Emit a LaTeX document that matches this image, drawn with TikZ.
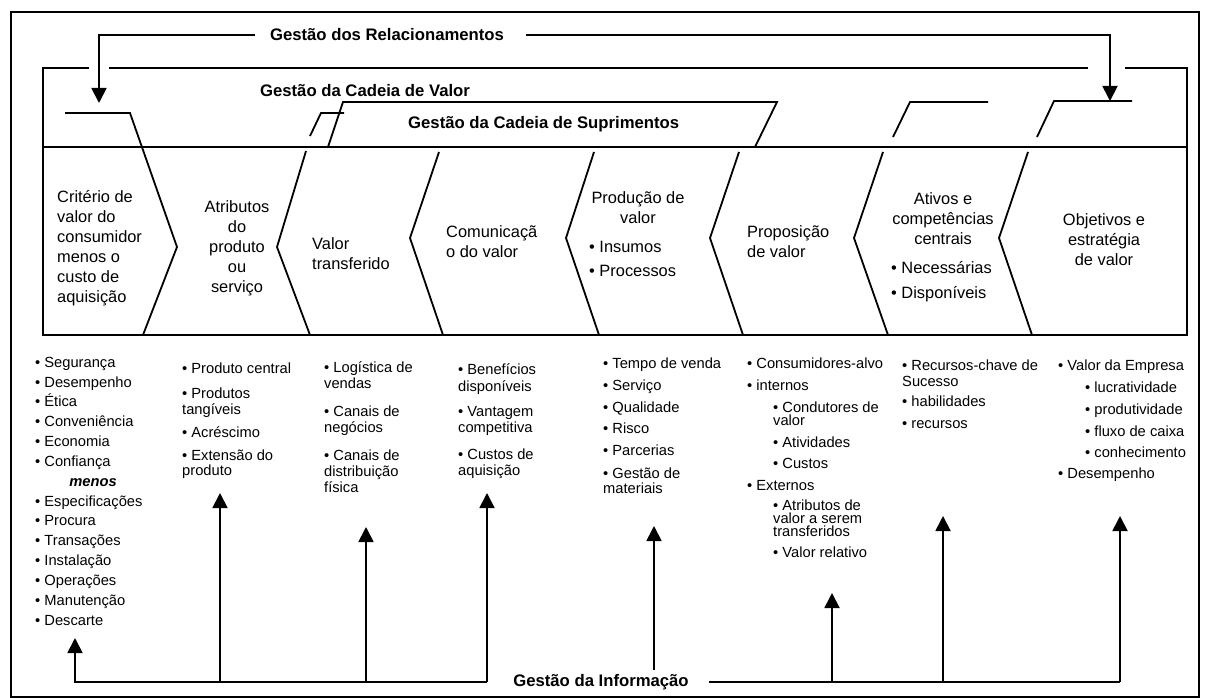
\documentclass[tikz,border=0pt]{standalone}
\usepackage{fontspec}
\setmainfont{Liberation Sans}
\usetikzlibrary{arrows.meta}
\begin{document}
\begin{tikzpicture}[x=1pt,y=-1pt,
  ln/.style={line width=1.8pt, line join=miter},
  arr/.style={ln,-{Triangle[width=15pt,length=15pt]}},
  title/.style={font=\fontsize{16.7}{20}\selectfont\bfseries, inner sep=0pt},
  band/.style={font=\fontsize{16.4}{20}\selectfont, inner sep=0pt},
  bandl/.style={band, anchor=west, align=left},
  bandc/.style={band, align=center},
  lst/.style={font=\fontsize{14.7}{16}\selectfont, inner sep=0pt, anchor=west,
              text height=10.5pt, text depth=3pt},
]
\useasboundingbox (0,0) rectangle (1209,698);
% outer frame
\draw[ln] (11,12) rectangle (1199,697);

% ---- relationship management (top) ----
\node[title] (rel) at (387,35) {Gestão dos Relacionamentos};
\coordinate (relTipL) at (99,103);
\coordinate (relTipR) at (1110,101);
\draw[arr] ([xshift=-15pt]rel.west) -| (relTipL);
\draw[arr] ([xshift=22pt]rel.east) -| (relTipR);

% ---- value chain management frame ----
\draw[ln] (89,68) -- (43,68) -- (43,335) -- (1187,335) -- (1187,68) -- (1125,68);
\draw[ln] (109,68) -- (1088,68);
\draw[ln] (43,147) -- (1187,147);
\node[title] (vc) at (365,91) {Gestão da Cadeia de Valor};

% ---- supply chain management ----
\draw[ln] (328,147) -- (343,102) -- (777,102) -- (755,147);
\node[title, anchor=west] (sc) at (408,124) {Gestão da Cadeia de Suprimentos};

% ---- chevron separators ----
\draw[ln] (65,113) -- (130,113) -- (177,247) -- (143,335);
\draw[ln] (344,113) -- (321,113) -- (310,136);
\draw[ln] (306,151) -- (277,247) -- (310,335);
\draw[ln] (439,152) -- (410,238) -- (443,335);
\draw[ln] (594,152) -- (566,238) -- (599,335);
\draw[ln] (739,152) -- (710,238) -- (743,335);
\draw[ln] (988,102) -- (910,102) -- (893,137);
\draw[ln] (883,152) -- (854,238) -- (888,335);
\draw[ln] (1132,101) -- (1054,101) -- (1037,137);
\draw[ln] (1028,152) -- (999,238) -- (1032,335);

% ---- stage labels ----
\node[bandl] (s1) at (57,248) {Critério de\\valor do\\consumidor\\menos o\\custo de\\aquisição};
\node[bandc] (s2) at (237,248) {Atributos\\do\\produto\\ou\\serviço};
\node[bandl] (s3) at (312,254) {Valor\\transferido};
\node[bandl] (s4) at (446,242) {Comunicaçã\\o do valor};
\node[bandc] (s5) at (638,208) {Produção de\\valor};
\node[band, anchor=west] (s5a) at (589,247) {• Insumos};
\node[band, anchor=west] (s5b) at (589,271) {• Processos};
\node[bandl] (s6) at (747,242) {Proposição\\de valor};
\node[bandc] (s7) at (943,219) {Ativos e\\competências\\centrais};
\node[band, anchor=west] (s7a) at (891,268) {• Necessárias};
\node[band, anchor=west] (s7b) at (891,294) {• Disponíveis};
\node[bandc] (s8) at (1104,240) {Objetivos e\\estratégia\\de valor};

% ---- lists below the stages ----
% column 1
\node[lst] (a1) at (35,364) {• Segurança};
\node[lst] (a2) at (35,384) {• Desempenho};
\node[lst] (a3) at (35,403) {• Ética};
\node[lst] (a4) at (35,423) {• Conveniência};
\node[lst] (a5) at (35,443) {• Economia};
\node[lst] (a6) at (35,463) {• Confiança};
\node[lst, anchor=center] (a7) at (93,483) {\bfseries\itshape menos};
\node[lst] (a8) at (35,503) {• Especificações};
\node[lst] (a9) at (35,522) {• Procura};
\node[lst] (a10) at (35,542) {• Transações};
\node[lst] (a11) at (35,562) {• Instalação};
\node[lst] (a12) at (35,582) {• Operações};
\node[lst] (a13) at (35,602) {• Manutenção};
\node[lst] (a14) at (35,622) {• Descarte};
% column 2
\node[lst] (b1) at (182,370) {• Produto central};
\node[lst] (b2) at (182,395) {• Produtos};
\node[lst] (b3) at (182,411) {tangíveis};
\node[lst] (b4) at (182,434) {• Acréscimo};
\node[lst] (b5) at (182,457) {• Extensão do};
\node[lst] (b6) at (182,472) {produto};
% column 3
\node[lst] (c1) at (324,369) {• Logística de};
\node[lst] (c2) at (324,385) {vendas};
\node[lst] (c3) at (324,413) {• Canais de};
\node[lst] (c4) at (324,429) {negócios};
\node[lst] (c5) at (324,457) {• Canais de};
\node[lst] (c6) at (324,473) {distribuição};
\node[lst] (c7) at (324,489) {física};
% column 4
\node[lst] (d1) at (458,371) {• Benefícios};
\node[lst] (d2) at (458,388) {disponíveis};
\node[lst] (d3) at (458,413) {• Vantagem};
\node[lst] (d4) at (458,429) {competitiva};
\node[lst] (d5) at (458,456) {• Custos de};
\node[lst] (d6) at (458,472) {aquisição};
% column 5
\node[lst] (e1) at (603,365) {• Tempo de venda};
\node[lst] (e2) at (603,387) {• Serviço};
\node[lst] (e3) at (603,409) {• Qualidade};
\node[lst] (e4) at (603,430) {• Risco};
\node[lst] (e5) at (603,452) {• Parcerias};
\node[lst] (e6) at (603,475) {• Gestão de};
\node[lst] (e7) at (603,490) {materiais};
% column 6
\node[lst] (f1) at (747,365) {• Consumidores-alvo};
\node[lst] (f2) at (747,387) {• internos};
\node[lst] (f3) at (773,409) {• Condutores de};
\node[lst] (f4) at (773,422) {valor};
\node[lst] (f5) at (773,444) {• Atividades};
\node[lst] (f6) at (773,465) {• Custos};
\node[lst] (f7) at (747,487) {• Externos};
\node[lst] (f8) at (773,507) {• Atributos de};
\node[lst] (f9) at (773,520) {valor a serem};
\node[lst] (f10) at (773,533) {transferidos};
\node[lst] (f11) at (773,554) {• Valor relativo};
% column 7
\node[lst] (g1) at (902,367) {• Recursos-chave de};
\node[lst] (g2) at (902,383) {Sucesso};
\node[lst] (g3) at (902,403) {• habilidades};
\node[lst] (g4) at (902,425) {• recursos};
% column 8
\node[lst] (h1) at (1058,367) {• Valor da Empresa};
\node[lst] (h2) at (1085,389) {• lucratividade};
\node[lst] (h3) at (1085,411) {• produtividade};
\node[lst] (h4) at (1085,433) {• fluxo de caixa};
\node[lst] (h5) at (1085,454) {• conhecimento};
\node[lst] (h6) at (1058,475) {• Desempenho};

% ---- information management (bottom) ----
\node[title] (info) at (601,682) {Gestão da Informação};
\coordinate (jL) at (487,682);
\coordinate (jR) at (1120,682);
\coordinate (t1) at (75,638);
\coordinate (t2) at (220,493);
\coordinate (t3) at (366,527);
\coordinate (t4) at (487,493);
\coordinate (t5) at (654,526);
\coordinate (t5b) at (654,670);
\coordinate (t6) at (832,593);
\coordinate (t7) at (943,516);
\coordinate (t8) at (1120,516);
\draw[arr] (jL) -| (t1);
\draw[arr] (jL) -- (t4);
\draw[arr] (t2 |- jL) -- (t2);
\draw[arr] (t3 |- jL) -- (t3);
\draw[arr] (t5b) -- (t5);
\draw[ln] ([xshift=20pt]info.east) -- (jR);
\draw[arr] (jR) -- (t8);
\draw[arr] (t6 |- jR) -- (t6);
\draw[arr] (t7 |- jR) -- (t7);
\end{tikzpicture}
\end{document}
